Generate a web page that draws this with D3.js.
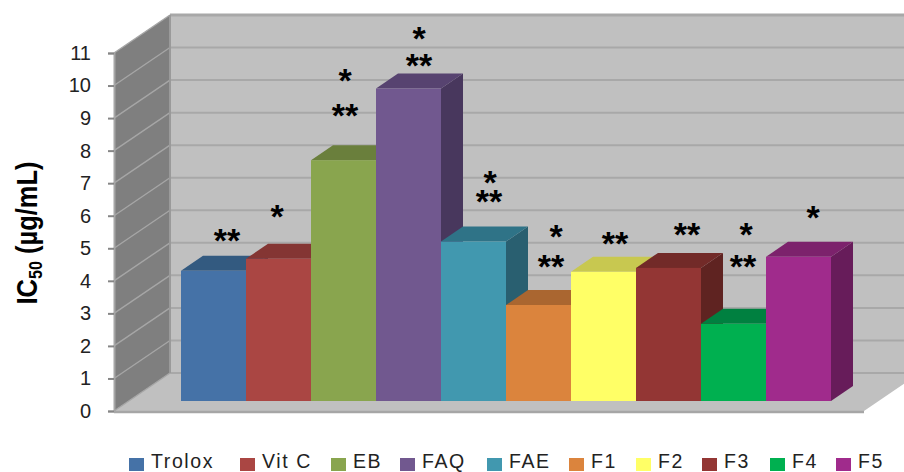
<!DOCTYPE html>
<html>
<head>
<meta charset="utf-8">
<script src="https://cdn.jsdelivr.net/npm/d3@7"></script>
<style>
html,body{margin:0;padding:0;background:#fff}
svg{display:block}
text{font-family:"Liberation Sans",Arial,sans-serif}
</style>
</head>
<body>
<svg id="chart" width="904" height="472"></svg>
<script>
// IC50 values per sample
const categories = ["Trolox","Vit C","EB","FAQ","FAE","F1","F2","F3","F4","F5"];
const values = [4.0,4.37,7.4,9.6,4.9,2.95,3.97,4.09,2.37,4.43];
const frontColors = ["#4572a7","#aa4643","#89a54e","#71588f","#4198af","#db843d","#ffff66","#933634","#00b050","#a02b8c"];
const topColors = ["#335a80","#843533","#6a7f3c","#574370","#2f7387","#aa6630","#c8c850","#722a28","#008040","#7c226c"];
const sideColors = ["#2a4a6c","#6e2c2a","#586a32","#48375d","#295f70","#8e5528","#a8a843","#5f2321","#006c35","#671c5a"];
const tickValues = d3.range(0,12);
// Significance marks: sample index, mark, height on the value axis, horizontal nudge
const marks = [
  [0,"**",5.35,13.5],[1,"*",6.08,-1.5],[2,"**",9.19,1.5],[2,"*",10.26,1.5],[3,"**",10.72,10.5],[3,"*",11.55,10.5],
  [4,"**",6.54,15.5],[4,"*",7.13,16.5],[5,"**",4.55,12.5],[5,"*",5.47,17.5],[6,"**",5.25,11.5],[7,"**",5.53,18.5],
  [8,"**",4.55,9.5],[8,"*",5.53,12.5],[9,"*",6.05,14.5]
];
const legendX = [129,240,331,400,487,569,636,702,770,836];

const svg = d3.select("#chart");
const y = d3.scaleLinear().domain([0,11]).range([411,53]);
const x = d3.scaleBand().domain(categories).range([181,831]);
const poly = d3.line();
const wallDx = 56, wallDy = -38, barDx = 22, barDy = -15, barLift = -10;

// Back wall, side wall and floor of the 3D box
const left = 114, right = 864, backLeft = left + wallDx;
svg.append("path").attr("fill","#c0c0c0")
  .attr("d",poly([[backLeft,y(11)+wallDy],[904,y(11)+wallDy],[904,y(0)+wallDy],[backLeft,y(0)+wallDy]])+"Z");
svg.append("path").attr("fill","#c0c0c0")
  .attr("d",poly([[left,y(0)],[right,y(0)],[right+wallDx,y(0)+wallDy],[backLeft,y(0)+wallDy]])+"Z");
svg.append("path").attr("fill","#7f7f7f")
  .attr("d",poly([[left,y(0)],[backLeft,y(0)+wallDy],[backLeft,y(11)+wallDy],[left,y(11)]])+"Z");

// Gridlines on both walls
svg.selectAll(".grid-back").data(tickValues).join("line").attr("class","grid-back")
  .attr("x1",backLeft).attr("x2",904)
  .attr("y1",d=>y(d)+wallDy).attr("y2",d=>y(d)+wallDy)
  .attr("stroke","#a8a8a8").attr("stroke-width",d=>d===11?3:2);
svg.selectAll(".grid-side").data(tickValues).join("line").attr("class","grid-side")
  .attr("x1",left).attr("x2",backLeft)
  .attr("y1",d=>y(d)).attr("y2",d=>y(d)+wallDy)
  .attr("stroke","#a6a6a6").attr("stroke-width",1.4);
svg.append("line").attr("x1",backLeft).attr("x2",backLeft)
  .attr("y1",y(11)+wallDy).attr("y2",y(0)+wallDy).attr("stroke","#9a9a9a").attr("stroke-width",2);
svg.append("line").attr("x1",left).attr("x2",right)
  .attr("y1",y(0)+1).attr("y2",y(0)+1).attr("stroke","#a6a6a6").attr("stroke-width",2.5);

// Bars, painted left to right so each one overlaps its neighbour's side face
const bars = svg.selectAll(".bar").data(categories).join("g").attr("class","bar");
bars.each(function(c,i){
  const g = d3.select(this);
  const x0 = x(c), x1 = x0 + x.bandwidth();
  const yb = y(0) + barLift, yt = y(values[i]) + barLift;
  g.append("path").attr("fill",sideColors[i])
    .attr("d",poly([[x1,yb],[x1+barDx,yb+barDy],[x1+barDx,yt+barDy],[x1,yt]])+"Z");
  g.append("path").attr("fill",topColors[i])
    .attr("d",poly([[x0,yt],[x1,yt],[x1+barDx,yt+barDy],[x0+barDx,yt+barDy]])+"Z");
  g.append("rect").attr("fill",frontColors[i])
    .attr("x",x0).attr("y",yt).attr("width",x1-x0).attr("height",yb-yt);
});

// Value axis
const axis = svg.append("g").attr("transform",`translate(${left},0)`)
  .call(d3.axisLeft(y).tickValues(tickValues).tickSize(6).tickPadding(17).tickFormat(d3.format("d")));
axis.select(".domain").attr("stroke","#a6a6a6").attr("stroke-width",2);
axis.selectAll(".tick line").attr("stroke","#868686").attr("stroke-width",2);
axis.selectAll(".tick text").attr("font-size",20).attr("fill","#222")
  .style("font-family",'"Liberation Sans",Arial,sans-serif');

// Axis title with subscript, drawn tall and slightly condensed
const title = svg.append("text")
  .attr("transform","translate(37,233) rotate(-90) scale(0.85,1)")
  .attr("text-anchor","middle").attr("font-size",30).attr("font-weight","bold").attr("fill","#000");
title.append("tspan").text("IC");
title.append("tspan").attr("font-size",19).attr("dy",5).text("50");
title.append("tspan").attr("dy",-5).text(" (µg/mL)");

// Significance marks
svg.selectAll(".mark").data(marks).join("text").attr("class","mark")
  .attr("x",d=>x(categories[d[0]])+x.bandwidth()/2+d[3])
  .attr("y",d=>y(d[2])+15)
  .attr("text-anchor","middle").attr("font-size",34).attr("font-weight","bold").attr("fill","#000")
  .text(d=>d[1]);

// Legend
const legend = svg.selectAll(".legend").data(categories).join("g").attr("class","legend")
  .attr("transform",(d,i)=>`translate(${legendX[i]},458)`);
legend.append("rect").attr("width",15).attr("height",13).attr("fill",(d,i)=>frontColors[i]);
legend.append("text").attr("x",22).attr("y",10).attr("font-size",19.5).attr("letter-spacing",1.6)
  .attr("fill","#222").text(d=>d);
</script>
</body>
</html>
